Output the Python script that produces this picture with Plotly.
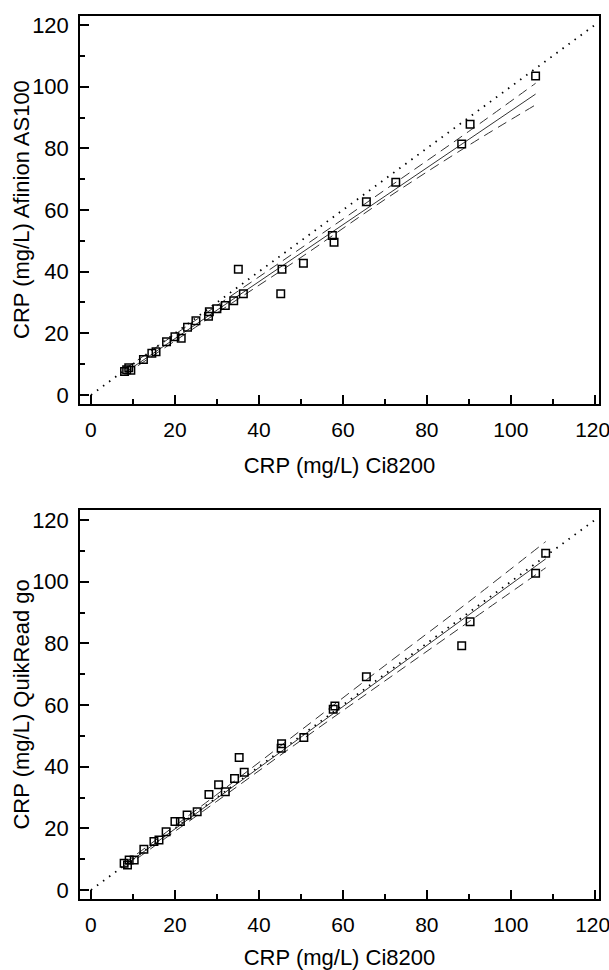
import plotly.graph_objects as go

# ---------------------------------------------------------------------------
# Data (two method comparison scatter plots)
# ---------------------------------------------------------------------------
# Top panel: Afinion AS100 vs Ci8200
afinion_x = [8.0, 8.5, 9.0, 9.5, 12.5, 14.5, 15.5, 18.0, 20.0, 21.5, 23.0, 25.0,
             28.0, 28.2, 30.0, 32.0, 34.0, 36.3, 35.1, 45.2, 45.5, 50.6, 57.5,
             57.9, 65.6, 72.6, 88.3, 90.3, 105.9]
afinion_y = [7.6, 8.2, 8.8, 8.0, 11.5, 13.5, 14.0, 17.3, 18.9, 18.4, 22.0, 24.1,
             25.5, 27.0, 28.0, 29.0, 30.6, 32.8, 40.8, 32.8, 40.8, 42.7, 51.7,
             49.5, 62.7, 69.0, 81.4, 87.8, 103.5]
afinion_fit_x = [8.0, 105.9]
afinion_fit_y = [7.2, 97.6]
afinion_ci_x = [8.0, 30.0, 50.0, 70.0, 90.0, 105.9]
afinion_ci_hi = [8.4, 29.0, 47.6, 66.5, 85.5, 101.1]
afinion_ci_lo = [6.6, 26.6, 44.6, 63.4, 81.0, 94.1]

# Bottom panel: QuikRead go vs Ci8200
quikread_x = [7.9, 9.1, 8.7, 10.3, 12.6, 15.0, 16.2, 17.9, 20.0, 21.3, 22.9, 25.3,
              28.1, 30.4, 32.0, 34.2, 36.5, 35.3, 45.4, 45.3, 50.7, 57.7, 58.1,
              65.6, 88.3, 90.3, 105.9, 108.3]
quikread_y = [8.7, 9.7, 8.1, 9.7, 13.2, 15.7, 16.2, 18.9, 22.2, 22.2, 24.3, 25.4,
              31.0, 34.1, 31.9, 36.2, 38.2, 43.0, 47.4, 46.0, 49.5, 58.6, 59.7,
              69.2, 79.2, 87.0, 102.7, 109.2]
quikread_fit_x = [7.9, 108.3]
quikread_fit_y = [7.8, 107.4]
quikread_ci_x = [7.9, 30.0, 50.0, 70.0, 90.0, 108.3]
quikread_ci_hi = [8.6, 31.0, 51.8, 72.8, 93.5, 113.0]
quikread_ci_lo = [7.2, 28.8, 48.5, 67.8, 87.0, 104.5]

# Line of identity
identity = [0, 120]

tick_vals = [0, 20, 40, 60, 80, 100, 120]
# last x label gets a thin trailing space so it stays inside the page edge
x_tick_text = ["0", "20", "40", "60", "80", "100", "120\u2009"]
x_title = "CRP (mg/L) Ci8200"
y_titles = ["CRP (mg/L) Afinion AS100", "CRP (mg/L) QuikRead go"]

FONT = "Liberation Sans, Arial, sans-serif"

fig = go.Figure()

panels = [
    ("", afinion_x, afinion_y, afinion_fit_x, afinion_fit_y,
     afinion_ci_x, afinion_ci_hi, afinion_ci_lo),
    ("2", quikread_x, quikread_y, quikread_fit_x, quikread_fit_y,
     quikread_ci_x, quikread_ci_hi, quikread_ci_lo),
]

for suffix, px, py, fx, fy, cx, chi, clo in panels:
    xa = "x" + suffix
    ya = "y" + suffix
    # identity line (dotted)
    fig.add_trace(go.Scatter(x=identity, y=identity, mode="lines",
                             line=dict(color="black", width=1.8, dash="1.5px,6px"),
                             xaxis=xa, yaxis=ya, hoverinfo="skip"))
    # confidence band (dashed)
    for band in (chi, clo):
        fig.add_trace(go.Scatter(x=cx, y=band, mode="lines",
                                 line=dict(color="#333333", width=1, dash="10px,6px",
                                           shape="spline"),
                                 xaxis=xa, yaxis=ya, hoverinfo="skip"))
    # regression line (solid)
    fig.add_trace(go.Scatter(x=fx, y=fy, mode="lines",
                             line=dict(color="#333333", width=1),
                             xaxis=xa, yaxis=ya, hoverinfo="skip"))
    # observations
    fig.add_trace(go.Scatter(x=px, y=py, mode="markers",
                             marker=dict(symbol="square-open", size=7.5, color="black",
                                         line=dict(width=1.5, color="black")),
                             xaxis=xa, yaxis=ya))

axis_common = dict(
    showline=True, mirror=True, linecolor="black", linewidth=1.5,
    showgrid=False, zeroline=False, automargin=False,
    ticks="inside", ticklen=9, tickwidth=1.5, tickcolor="black",
    minor=dict(ticks="inside", ticklen=5, tickwidth=1.5, tickcolor="black", dtick=10),
    tickvals=tick_vals, ticklabeloverflow="allow",
    tickfont=dict(family=FONT, size=22, color="black"),
    title_font=dict(family=FONT, size=22, color="black"),
)
x_extra = dict(ticktext=x_tick_text, tickfont=dict(family=FONT, size=21, color="black"))

fig.update_layout(
    width=609, height=970,
    margin=dict(l=80, r=10, t=16, b=71),
    plot_bgcolor="white", paper_bgcolor="white",
    showlegend=False,
    xaxis=dict(axis_common, **x_extra, domain=[0, 1], range=[-2.61, 121.0], anchor="y",
               ticklabelstandoff=6, title=dict(text=x_title, standoff=18)),
    yaxis=dict(axis_common, domain=[0.5606, 1], range=[-2.92, 122.92], anchor="x",
               ticklabelstandoff=5),
    xaxis2=dict(axis_common, **x_extra, domain=[0, 1], range=[-2.61, 121.0], anchor="y2",
                ticklabelstandoff=6, title=dict(text=x_title, standoff=18)),
    yaxis2=dict(axis_common, domain=[0, 0.4405], range=[-2.92, 123.24], anchor="x2",
                ticklabelstandoff=5),
)

# y-axis titles as rotated annotations, placed left of the tick labels
for title, yaxis_name in zip(y_titles, ("yaxis", "yaxis2")):
    dom = fig.layout[yaxis_name].domain
    fig.add_annotation(
        text=title, textangle=-90, showarrow=False,
        xref="paper", yref="paper", x=0, y=(dom[0] + dom[1]) / 2,
        xanchor="center", yanchor="middle", xshift=-58,
        font=dict(family=FONT, size=22, color="black"),
    )

# drop the page's default body margin so the figure sits at the window's corner
fig.write_html("out.html", config={"displayModeBar": False},
               post_script="document.body.style.margin='0';")
